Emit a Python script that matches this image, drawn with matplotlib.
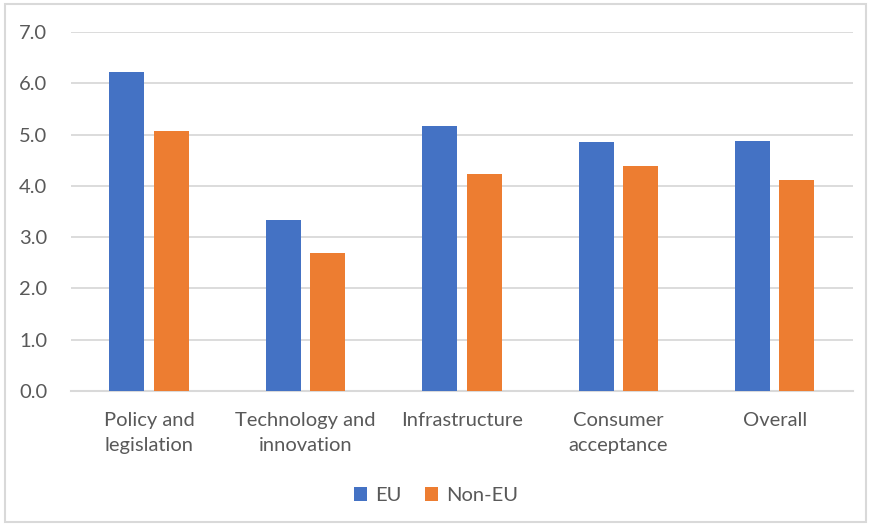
import matplotlib.pyplot as plt
import numpy as np
from matplotlib.patches import Rectangle

categories = ["Policy and\nlegislation", "Technology and\ninnovation", "Infrastructure",
              "Consumer\nacceptance", "Overall"]
eu = [6.23, 3.34, 5.16, 4.86, 4.88]
non_eu = [5.07, 2.70, 4.24, 4.39, 4.11]
yticks = [0, 1, 2, 3, 4, 5, 6, 7]

blue = "#4472C4"
orange = "#ED7D31"
grey = "#595959"

plt.rcParams['font.family'] = ['Lato', 'DejaVu Sans']

fig = plt.figure(figsize=(8.72, 5.26), dpi=100)
# light frame around the whole chart area
fig.patches.append(Rectangle((0.006, 0.008), 0.987, 0.984, transform=fig.transFigure,
                             fill=False, edgecolor="#D9D9D9", lw=1.5))

ax = fig.add_axes([0.0814, 0.2567, 0.8966, 0.6823])
x = np.arange(len(categories))
w = 0.224
ax.bar(x - 0.142, eu, w, color=blue, label="EU", zorder=3)
ax.bar(x + 0.142, non_eu, w, color=orange, label="Non-EU", zorder=3)

ax.set_xlim(-0.5, len(categories) - 0.5)
ax.set_ylim(0, 7)
ax.set_yticks(yticks)
ax.set_yticklabels([f"{v:.1f}" for v in yticks])
ax.set_xticks(x)
ax.set_xticklabels(categories, linespacing=1.62)
ax.tick_params(axis='both', length=0, labelsize=14.5, labelcolor=grey)
ax.tick_params(axis='y', pad=17)
ax.tick_params(axis='x', pad=15)
ax.grid(axis='y', color="#D9D9D9", lw=1.3, zorder=0)
for s in ["top", "right", "left"]:
    ax.spines[s].set_visible(False)
ax.spines["bottom"].set_color("#D9D9D9")
ax.spines["bottom"].set_linewidth(1.5)

fig.legend(loc="center", bbox_to_anchor=(0.5, 0.058), ncol=2, frameon=False,
           fontsize=14.5, labelcolor=grey, handlelength=0.65, handleheight=0.65,
           handletextpad=0.4, columnspacing=1.2)

fig.savefig("out.png", dpi=100)
